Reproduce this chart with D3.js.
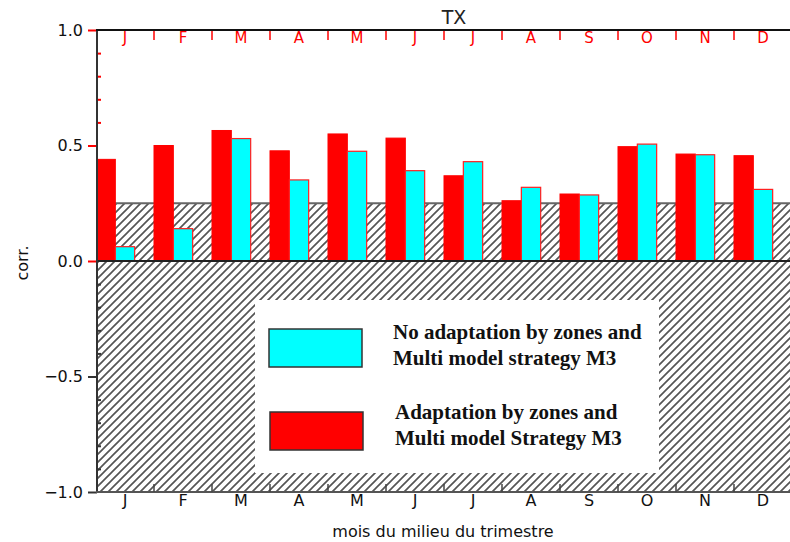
<!DOCTYPE html>
<html>
<head>
<meta charset="utf-8">
<script src="https://cdn.jsdelivr.net/npm/d3@7"></script>
<style>
  body { margin: 0; background: #fff; }
  svg { display: block; }
</style>
</head>
<body>
<div id="chart"></div>
<script>
// data
var months = ["J", "F", "M", "A", "M", "J", "J", "A", "S", "O", "N", "D"];
var adapt = [0.44, 0.50, 0.565, 0.477, 0.55, 0.532, 0.369, 0.261, 0.29, 0.495, 0.463, 0.456];
var noAdapt = [0.062, 0.14, 0.53, 0.351, 0.475, 0.391, 0.43, 0.319, 0.286, 0.506, 0.46, 0.31];
var yMajor = [-1, -0.5, 0, 0.5, 1];
var threshold = 0.25;
var legendLabels = [
  ["No adaptation by zones and", "Multi model strategy M3"],
  ["Adaptation by zones and", "Multi model Strategy M3"]
];

var width = 790, height = 542;

var svg = d3.select("#chart").append("svg")
  .attr("width", width)
  .attr("height", height);

// hatch pattern
var defs = svg.append("defs");
defs.append("pattern")
  .attr("id", "hatch")
  .attr("patternUnits", "userSpaceOnUse")
  .attr("width", 8).attr("height", 8)
  .append("path")
    .attr("d", "M-1,1 L1,-1 M0,8 L8,0 M7,9 L9,7")
    .attr("stroke", "#555")
    .attr("stroke-width", 1.7);

var x = d3.scaleBand()
  .domain(d3.range(months.length))
  .range([96, 792]);

var y = d3.scaleLinear()
  .domain([-1, 1])
  .range([492, 30]);

var left = 97, right = width;

// hatched zone (non significant)
svg.append("rect")
  .attr("x", left).attr("y", y(threshold))
  .attr("width", right - left).attr("height", y(-1) - y(threshold))
  .attr("fill", "url(#hatch)");

svg.append("line")
  .attr("x1", left).attr("x2", right)
  .attr("y1", y(threshold)).attr("y2", y(threshold))
  .attr("stroke", "#666").attr("stroke-width", 2);

// bars
var bw = x.bandwidth() / 3;
svg.selectAll(".bar-red")
  .data(adapt)
  .enter()
  .append("rect")
    .attr("x", function(d, i) { return x(i) + (i == 0 ? 1 : 0); })
    .attr("y", function(d) { return y(d); })
    .attr("width", function(d, i) { return bw - (i == 0 ? 1 : 0); })
    .attr("height", function(d) { return y(0) - y(d); })
    .attr("fill", "#ff0000")
    .attr("stroke", "#ff0000")
    .attr("stroke-width", 1);

svg.selectAll(".bar-cyan")
  .data(noAdapt)
  .enter()
  .append("rect")
    .attr("x", function(d, i) { return x(i) + bw; })
    .attr("y", function(d) { return y(d); })
    .attr("width", bw)
    .attr("height", function(d) { return y(0) - y(d); })
    .attr("fill", "#00ffff")
    .attr("stroke", "#ff2020")
    .attr("stroke-width", 1.2);

// zero line
svg.append("line")
  .attr("x1", left).attr("x2", right)
  .attr("y1", y(0)).attr("y2", y(0))
  .attr("stroke", "#222").attr("stroke-width", 2);

// legend box
var lg = svg.append("g");
lg.append("rect")
  .attr("x", 255).attr("y", 300)
  .attr("width", 404).attr("height", 173)
  .attr("fill", "#fff");

var swatchY = [329, 412];
var swatchCol = ["#00ffff", "#ff0000"];
var textX = [393, 395];
var textY = [339, 419];
legendLabels.forEach(function(lines, k) {
  lg.append("rect")
    .attr("x", 269 + k).attr("y", swatchY[k])
    .attr("width", 93).attr("height", 38)
    .attr("fill", swatchCol[k])
    .attr("stroke", "#333").attr("stroke-width", 1.5);
  lines.forEach(function(t, j) {
    lg.append("text")
      .attr("x", textX[k]).attr("y", textY[k] + j * 26)
      .attr("font-family", "Liberation Serif, serif")
      .attr("font-weight", "bold")
      .attr("font-size", 21)
      .attr("fill", "#111")
      .text(t);
  });
});

// left axis
var fmt = function(d) { return d3.format(".1f")(d).replace("-", "\u2212"); };
var yAxis = svg.append("g")
  .attr("transform", "translate(" + left + ",0)")
  .call(d3.axisLeft(y).tickValues(yMajor).tickSize(9).tickFormat(fmt));
yAxis.select(".domain").remove();
yAxis.selectAll(".tick line")
  .attr("stroke", function(d) { return d >= 0 ? "#ff0000" : "#333"; })
  .attr("stroke-width", 2);
yAxis.selectAll(".tick text")
  .attr("x", -14)
  .attr("font-family", "DejaVu Sans, sans-serif")
  .attr("font-size", 16)
  .attr("fill", "#111");

var minor = d3.range(-9, 10).map(function(d) { return d / 10; })
  .filter(function(d) { return Math.abs(d * 2 - Math.round(d * 2)) > 1e-6; });
var yMinor = svg.append("g")
  .attr("transform", "translate(" + left + ",0)")
  .call(d3.axisRight(y).tickValues(minor).tickSize(4).tickFormat(""));
yMinor.select(".domain").remove();
yMinor.selectAll(".tick line")
  .attr("stroke", function(d) { return d > 0 ? "#ff0000" : "#333"; })
  .attr("stroke-width", 2);

svg.append("line")
  .attr("x1", left).attr("x2", left)
  .attr("y1", 30).attr("y2", 492)
  .attr("stroke", "#333").attr("stroke-width", 2);

// top axis
svg.append("line")
  .attr("x1", 96).attr("x2", right)
  .attr("y1", 30).attr("y2", 30)
  .attr("stroke", "#111").attr("stroke-width", 2);

svg.selectAll(".top-tick")
  .data(d3.range(1, months.length))
  .enter()
  .append("line")
    .attr("x1", function(i) { return x(i); })
    .attr("x2", function(i) { return x(i); })
    .attr("y1", 31).attr("y2", 40)
    .attr("stroke", "#ff0000").attr("stroke-width", 1.5);

svg.selectAll(".top-label")
  .data(months)
  .enter()
  .append("text")
    .attr("x", function(d, i) { return x(i) + x.bandwidth() / 2; })
    .attr("y", 43)
    .attr("text-anchor", "middle")
    .attr("font-family", "DejaVu Sans, sans-serif")
    .attr("font-size", 15)
    .attr("fill", "#ff0000")
    .text(function(d) { return d; });

// bottom axis
svg.append("line")
  .attr("x1", 96).attr("x2", right)
  .attr("y1", 492).attr("y2", 492)
  .attr("stroke", "#555").attr("stroke-width", 2);

svg.selectAll(".bot-tick")
  .data(d3.range(1, months.length))
  .enter()
  .append("line")
    .attr("x1", function(i) { return x(i); })
    .attr("x2", function(i) { return x(i); })
    .attr("y1", 492).attr("y2", 484)
    .attr("stroke", "#444").attr("stroke-width", 1.5);

svg.selectAll(".bot-label")
  .data(months)
  .enter()
  .append("text")
    .attr("x", function(d, i) { return x(i) + x.bandwidth() / 2; })
    .attr("y", 506)
    .attr("text-anchor", "middle")
    .attr("font-family", "DejaVu Sans, sans-serif")
    .attr("font-size", 16)
    .attr("fill", "#111")
    .text(function(d) { return d; });

// titles
svg.append("text")
  .attr("x", 454).attr("y", 24)
  .attr("text-anchor", "middle")
  .attr("font-family", "DejaVu Sans, sans-serif")
  .attr("font-size", 19)
  .attr("fill", "#222")
  .text("TX");

svg.append("text")
  .attr("x", 443).attr("y", 537)
  .attr("text-anchor", "middle")
  .attr("font-family", "DejaVu Sans, sans-serif")
  .attr("font-size", 16)
  .attr("fill", "#111")
  .text("mois du milieu du trimestre");

svg.append("text")
  .attr("transform", "translate(28,263) rotate(-90)")
  .attr("text-anchor", "middle")
  .attr("font-family", "DejaVu Sans, sans-serif")
  .attr("font-size", 16)
  .attr("fill", "#111")
  .text("corr.");
</script>
</body>
</html>
